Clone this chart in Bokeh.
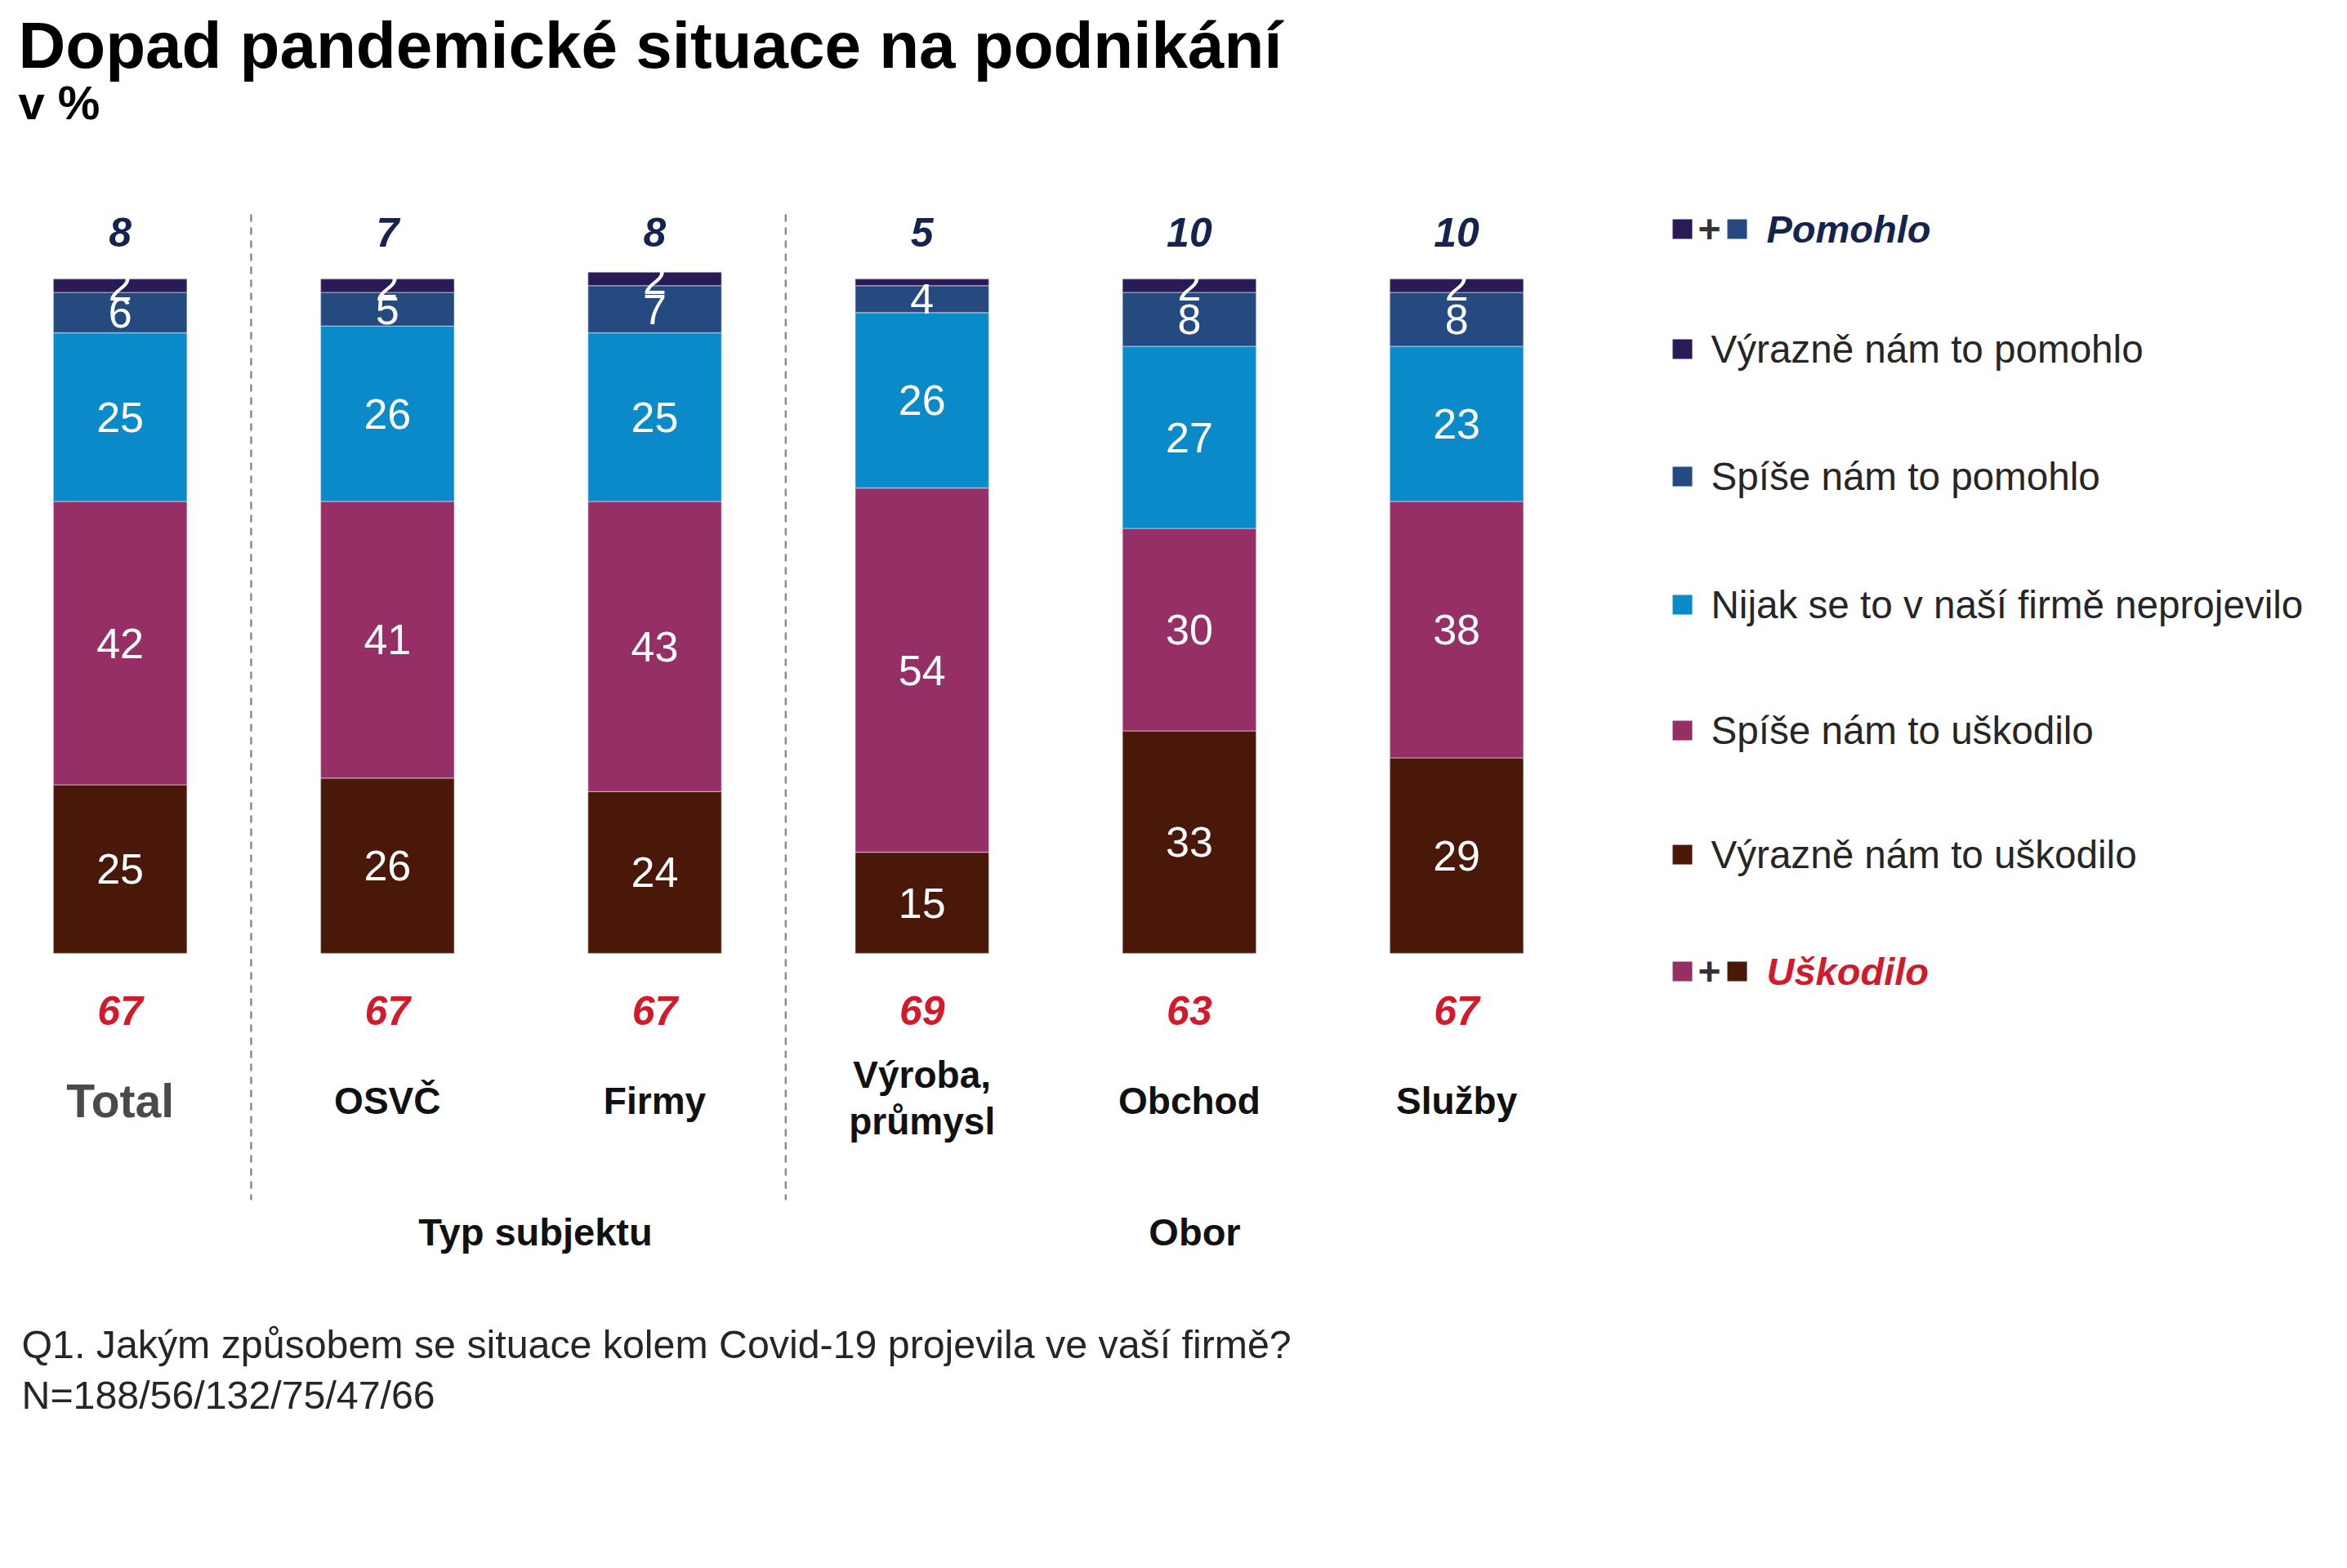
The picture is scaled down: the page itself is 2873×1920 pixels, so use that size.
from bokeh.plotting import figure
from bokeh.models import ColumnDataSource, Range1d
from bokeh.core.properties import value
from bokeh.embed import file_html
from bokeh.resources import INLINE
import numpy as np

# ---- data -------------------------------------------------------------
categories = ["Total", "OSVČ", "Firmy", "Výroba, průmysl", "Obchod", "Služby"]
vyrazne_pomohlo = [2, 2, 2, 1, 2, 2]
spise_pomohlo = [6, 5, 7, 4, 8, 8]
nijak = [25, 26, 25, 26, 27, 23]
spise_uskodilo = [42, 41, 43, 54, 30, 38]
vyrazne_uskodilo = [25, 26, 24, 15, 33, 29]
pomohlo_total = [8, 7, 8, 5, 10, 10]
uskodilo_total = [67, 67, 67, 69, 63, 67]

series_names = [
    "Výrazně nám to uškodilo",
    "Spíše nám to uškodilo",
    "Nijak se to v naší firmě neprojevilo",
    "Spíše nám to pomohlo",
    "Výrazně nám to pomohlo",
]
series_values = [vyrazne_uskodilo, spise_uskodilo, nijak, spise_pomohlo, vyrazne_pomohlo]
series_colors = ["#4A1809", "#972F67", "#0B8AC9", "#254A80", "#2A1A55"]

group_labels = ["Typ subjektu", "Obor"]
title = "Dopad pandemické situace na podnikání"
subtitle = "v %"
footnote = ["Q1. Jakým způsobem se situace kolem Covid-19 projevila ve vaší firmě?",
            "N=188/56/132/75/47/66"]

FONT = value("Liberation Sans")
NAVY = "#15244F"
RED = "#D11A2A"
TEXT = "#262626"

# ---- canvas geometry (pixel -> data helpers) --------------------------
W, H = 2873, 1920
X0, DX = 146.6, 327.2      # centre of first bar, spacing between bars
Y0, K = 1167.0, 8.26       # baseline of bars, pixels per percentage point


def xd(px):
    return (px - X0) / DX


def yd(py):
    return (Y0 - py) / K


p = figure(width=W, height=H, output_backend="svg", toolbar_location=None,
           x_range=Range1d(xd(0), xd(W)), y_range=Range1d(yd(H), yd(0)),
           x_axis_location=None, y_axis_location=None, min_border=0)
p.grid.visible = False
p.outline_line_color = None
p.background_fill_color = "white"
p.border_fill_color = "white"

idx = np.arange(len(categories))

# ---- stacked bars ------------------------------------------------------
bottom = np.zeros(len(categories))
seg_x, seg_y, seg_t = [], [], []
for vals, col in zip(series_values, series_colors):
    vals = np.array(vals, dtype=float)
    src = ColumnDataSource(dict(x=idx, bottom=bottom, top=bottom + vals))
    p.vbar(x="x", bottom="bottom", top="top", width=0.5, source=src,
           fill_color=col, line_color="white", line_alpha=0.35, line_width=1.5)
    for i, v in enumerate(vals):
        if v >= 2:
            seg_x.append(i)
            seg_y.append(bottom[i] + v / 2)
            seg_t.append(str(int(v)))
    bottom = bottom + vals

p.text(x=seg_x, y=seg_y, text=seg_t, text_color="white", text_font=FONT,
       text_font_size="52px", text_align="center", text_baseline="middle")

# ---- totals above / below ---------------------------------------------
p.text(x=idx, y=[yd(284)] * len(idx), text=[str(v) for v in pomohlo_total],
       text_color=NAVY, text_font=FONT, text_font_style="bold italic",
       text_font_size="50px", text_align="center", text_baseline="middle")
p.text(x=idx, y=[yd(1237)] * len(idx), text=[str(v) for v in uskodilo_total],
       text_color=RED, text_font=FONT, text_font_style="bold italic",
       text_font_size="50px", text_align="center", text_baseline="middle")

# ---- category labels ---------------------------------------------------
for i, cat in enumerate(categories):
    if i == 0:
        p.text(x=[i], y=[yd(1347)], text=[cat], text_color="#4A4A4A", text_font=FONT,
               text_font_style="bold", text_font_size="57px",
               text_align="center", text_baseline="middle")
    elif "," in cat:
        first, second = cat.split(", ")
        p.text(x=[i, i], y=[yd(1315), yd(1372)], text=[first + ",", second],
               text_color="#111111", text_font=FONT, text_font_style="bold",
               text_font_size="46px", text_align="center", text_baseline="middle")
    else:
        p.text(x=[i], y=[yd(1347)], text=[cat], text_color="#111111", text_font=FONT,
               text_font_style="bold", text_font_size="46px",
               text_align="center", text_baseline="middle")

# group labels
p.text(x=[xd(655), xd(1462)], y=[yd(1508)] * 2, text=group_labels,
       text_color="#111111", text_font=FONT, text_font_style="bold",
       text_font_size="47px", text_align="center", text_baseline="middle")

# dashed separators between groups
for sx in (0.5, 2.5):
    p.segment(x0=[sx - 0.01], y0=[yd(262)], x1=[sx - 0.01], y1=[yd(1469)],
              line_color="#8C8C8C", line_width=2.5, line_dash="9 7")

# ---- title -------------------------------------------------------------
p.text(x=[xd(22)], y=[yd(55)], text=[title], text_color="#000000", text_font=FONT,
       text_font_style="bold", text_font_size="80px",
       text_align="left", text_baseline="middle")
p.text(x=[xd(22)], y=[yd(125)], text=[subtitle], text_color="#000000", text_font=FONT,
       text_font_style="bold", text_font_size="58px",
       text_align="left", text_baseline="middle")

# ---- legend ------------------------------------------------------------
LX = 2059          # centre of legend squares
SQ = 24            # square side, px
row_y = [427, 583, 740, 894, 1046]
legend_cols = series_colors[::-1]
legend_names = series_names[::-1]
p.rect(x=[xd(LX)] * 5, y=[yd(r) for r in row_y], width=SQ / DX, height=SQ / K,
       fill_color=legend_cols, line_color=None)
p.text(x=[xd(2094)] * 5, y=[yd(r) for r in row_y], text=legend_names,
       text_color=TEXT, text_font=FONT, text_font_size="47.6px",
       text_align="left", text_baseline="middle")

# combined legend rows
combo = [
    (280, series_colors[4], series_colors[3], "Pomohlo", NAVY),
    (1189, series_colors[1], series_colors[0], "Uškodilo", RED),
]
for ry, c1, c2, label, tc in combo:
    p.rect(x=[xd(LX), xd(2126)], y=[yd(ry)] * 2, width=SQ / DX, height=SQ / K,
           fill_color=[c1, c2], line_color=None)
    p.text(x=[xd(2092)], y=[yd(ry)], text=["+"], text_color="#333333", text_font=FONT,
           text_font_style="bold", text_font_size="48px",
           text_align="center", text_baseline="middle")
    p.text(x=[xd(2162)], y=[yd(ry)], text=[label], text_color=tc, text_font=FONT,
           text_font_style="bold italic", text_font_size="47px",
           text_align="left", text_baseline="middle")

# ---- footnote ----------------------------------------------------------
p.text(x=[xd(26)] * 2, y=[yd(1645), yd(1707)], text=footnote,
       text_color=TEXT, text_font=FONT, text_font_size="48.3px",
       text_align="left", text_baseline="middle")

open("out.html", "w").write(file_html(p, INLINE))
